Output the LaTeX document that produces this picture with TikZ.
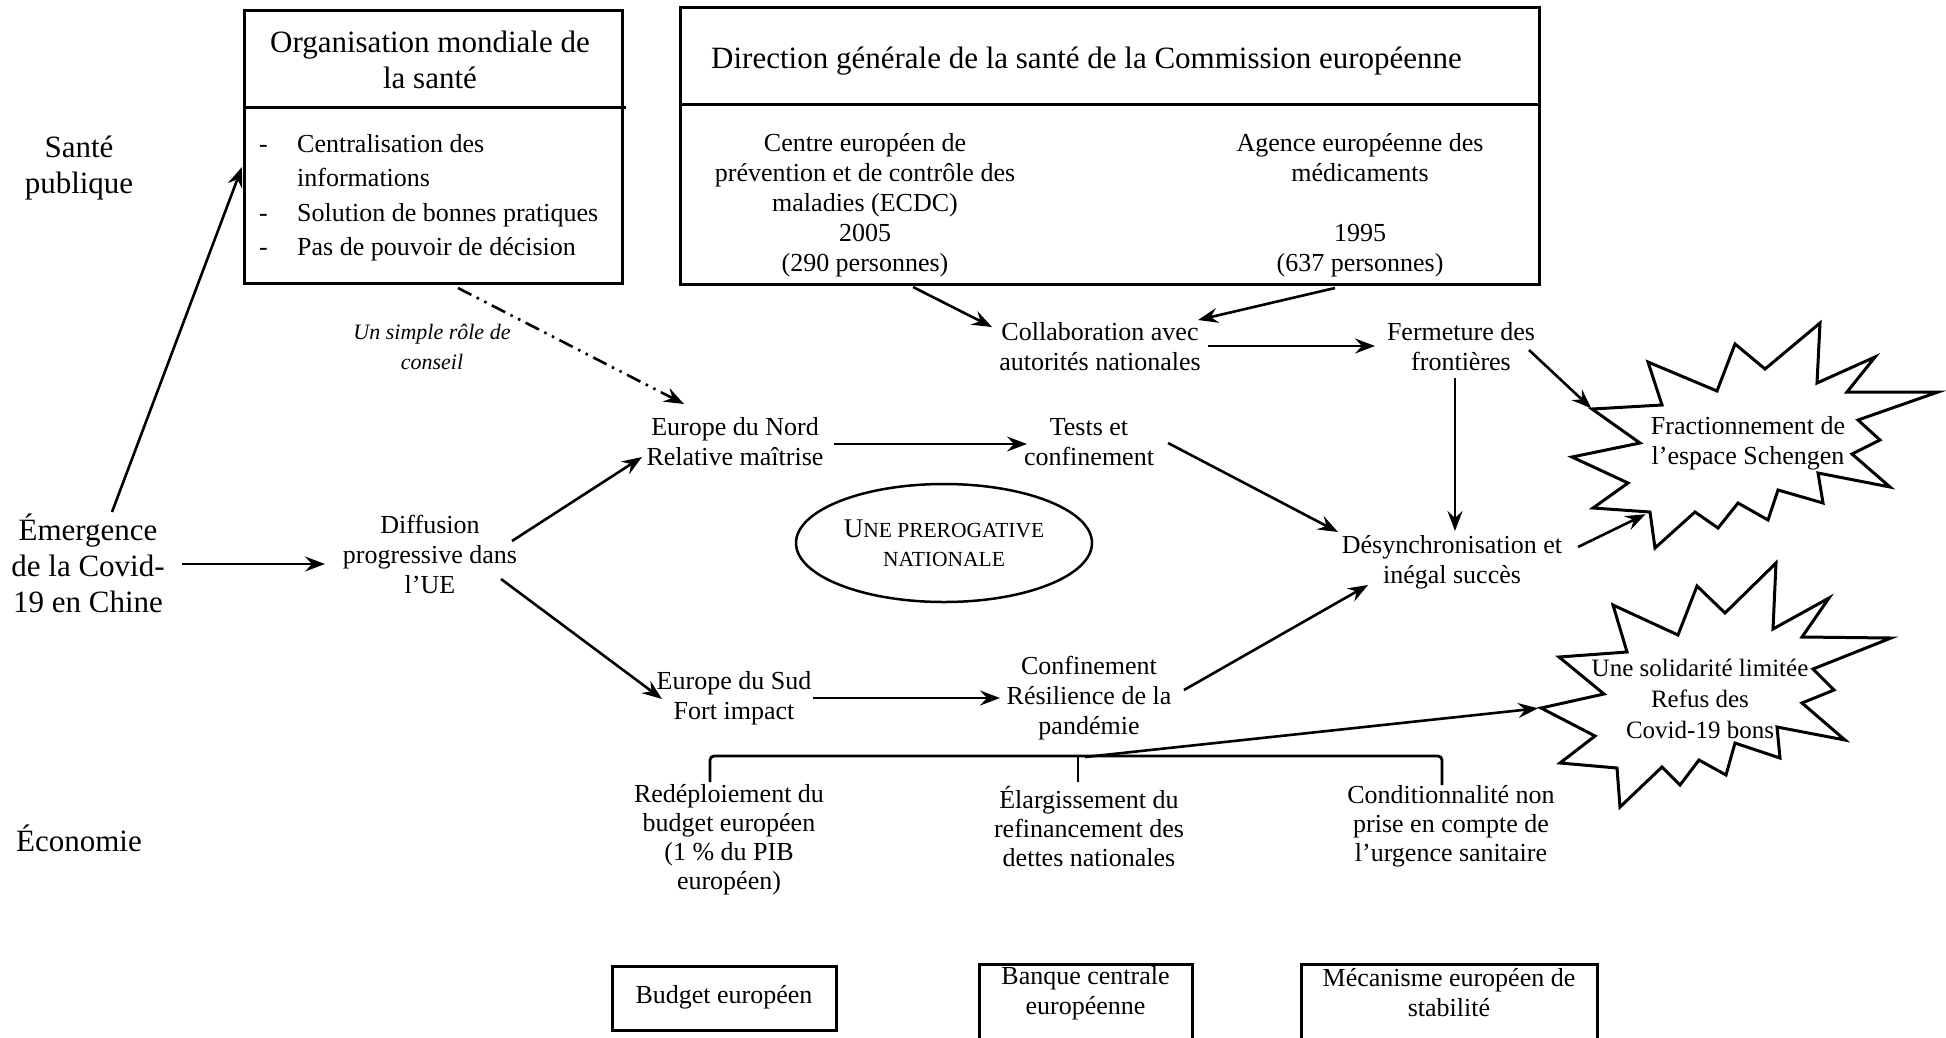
\documentclass[tikz,border=0pt]{standalone}
\usepackage{fontspec}
\setmainfont{Liberation Serif}
\usetikzlibrary{arrows.meta,shapes.geometric}
\begin{document}
\begin{tikzpicture}[x=1pt,y=-1pt,
  arr/.style={line width=2.6pt,-{Stealth[length=20pt,width=15pt,inset=7pt]}},
  ddarr/.style={arr,dash pattern=on 15pt off 6pt on 2.5pt off 6pt on 2.5pt off 6pt},
  txt/.style={align=center,inner sep=0pt,font=\fontsize{26}{30}\selectfont},
  big/.style={align=center,inner sep=0pt,font=\fontsize{31}{36}\selectfont},
  boxline/.style={line width=3pt},
  frame/.style={draw,boxline,inner sep=0pt},
  starline/.style={line width=3pt,line join=miter,miter limit=20}]
\path[fill=white,use as bounding box] (0,0) rectangle (1946,1037);

% left labels
\node[big] (sante) at (79,168) {Santé\\publique};
\node[big] (emerg) at (88,563) {Émergence\\de la Covid-\\19 en Chine};
\node[big] (eco) at (79,838) {Économie};

% OMS box
\node[frame,minimum width=378pt,minimum height=273pt] (omsbox) at (433,146.5) {};
\draw[boxline] (244,107) -- (626,107);
\node[big] (omstitle) at (430,60) {Organisation mondiale de\\la santé};
\node[inner sep=0pt,anchor=west,font=\fontsize{26}{34.5}\selectfont] (omslist) at (259,197)
  {\begin{tabular}{@{}p{38pt}@{}l@{}}-&Centralisation des\\&informations\\-&Solution de bonnes pratiques\\-&Pas de pouvoir de décision\end{tabular}};

% DG box
\node[frame,minimum width=859pt,minimum height=277pt] (dgbox) at (1109.5,145.5) {};
\draw[boxline] (680,104) -- (1539,104);
\node[big,anchor=west] (dgtitle) at (711,61) {Direction générale de la santé de la Commission européenne};
\node[txt] (ecdc) at (865,205) {Centre européen de\\prévention et de contrôle des\\maladies (ECDC)\\2005\\(290 personnes)};
\node[txt] (ema) at (1360,205) {Agence européenne des\\médicaments\\[30pt]1995\\(637 personnes)};

% flow nodes
\node[txt] (collab) at (1100,347) {Collaboration avec\\autorités nationales};
\node[txt] (ferm) at (1461,347) {Fermeture des\\frontières};
\node[txt] (diff) at (430,554) {Diffusion\\progressive dans\\l’UE};
\node[txt] (nord) at (735,442) {Europe du Nord\\Relative maîtrise};
\node[txt] (tests) at (1089,442) {Tests et\\confinement};
\node[txt] (desync) at (1452,562) {Désynchronisation et\\inégal succès};
\node[txt] (sud) at (734,698) {Europe du Sud\\Fort impact};
\node[txt] (conf) at (1089,698) {Confinement\\Résilience de la\\pandémie};
\node[txt,font=\itshape\fontsize{22}{30}\selectfont] (conseil) at (432,347) {Un simple rôle de\\conseil};

\node[draw,ellipse,line width=2.5pt,minimum width=296pt,minimum height=118pt,inner sep=0pt,
      align=center,font=\fontsize{21.5}{29}\selectfont] (prerog) at (944,543)
  {{\fontsize{27}{29}\selectfont U}NE PREROGATIVE\\NATIONALE};

% economy
\node[txt,font=\fontsize{26}{29}\selectfont] (redep) at (729,840) {Redéploiement du\\budget européen\\(1 \% du PIB\\européen)};
\node[txt,font=\fontsize{26}{29}\selectfont] (elarg) at (1089,826) {Élargissement du\\refinancement des\\dettes nationales};
\node[txt,font=\fontsize{26}{29}\selectfont] (cond) at (1451,826) {Conditionnalité non\\prise en compte de\\l’urgence sanitaire};
\draw[line width=2.8pt,rounded corners=4pt] (710,782) -- (710,756) -- (1442,756) -- (1442,785);
\draw[line width=2.8pt] (1078,756) -- (1078,782);
\coordinate (brk) at (1085,757);

% bottom boxes
\node[frame,minimum width=224pt,minimum height=64pt] (budgetbox) at (724,998) {};
\node[txt] (budget) at (724,997) {Budget européen};
\node[frame,minimum width=213pt,minimum height=90pt,anchor=north] (bcebox) at (1085.5,963) {};
\node[txt] (bce) at (1085.5,993) {Banque centrale\\européenne};
\node[frame,minimum width=296pt,minimum height=90pt,anchor=north] (mesbox) at (1449,963) {};
\node[txt] (mes) at (1449,993) {Mécanisme européen de\\stabilité};

% stars
\draw[starline] (1592,409) coordinate (s1a) -- (1662,405) -- (1648,362) -- (1717,391) -- (1735,344) -- (1765,369)
  -- (1820,323) -- (1817,383) -- (1875,357) -- (1847,392) -- (1938,392) -- (1858,420) -- (1880,440)
  -- (1852,454) -- (1890,487) -- (1818,473) -- (1823,503) -- (1778,490) -- (1768,520) -- (1738,503)
  -- (1718,528) -- (1695,512) -- (1655,548) -- (1650,512) coordinate (s1b) -- (1593,508) -- (1628,483)
  -- (1572,457) -- (1640,443) -- cycle;
\node[txt] (frac) at (1748,443) {Fractionnement de\\l’espace Schengen};

\draw[starline] (1541,708) coordinate (s2a) -- (1604,694) -- (1559,657) -- (1627,652) -- (1613,605)
  -- (1678,635) -- (1697,586) -- (1725,613) -- (1776,563) -- (1773,629) -- (1829,598) -- (1802,637)
  -- (1891,638) -- (1813,669) -- (1834,690) -- (1802,703) -- (1845,740) -- (1777,727) -- (1780,758)
  -- (1735,743) -- (1726,775) -- (1699,760) -- (1680,785) -- (1662,767) -- (1620,807) -- (1617,768)
  -- (1560,763) -- (1595,736) -- cycle;
\node[txt,font=\fontsize{25}{31}\selectfont] (soli) at (1700,699) {Une solidarité limitée\\Refus des\\Covid-19 bons};

% connectors
\draw[arr] ([shift={(94,1)}]emerg.center) -- ([shift={(-105,10)}]diff.center);
\draw[arr] ([shift={(24,-51)}]emerg.center) -- ([shift={(-191,20.5)}]omsbox.center);
\draw[ddarr] ([shift={(25,141.5)}]omsbox.center) -- ([shift={(-51,-38)}]nord.center);
\draw[arr] ([shift={(82,-13)}]diff.center) -- ([shift={(-93,15)}]nord.center);
\draw[arr] ([shift={(71,25)}]diff.center) -- ([shift={(-72,1)}]sud.center);
\draw[arr] ([shift={(99,2)}]nord.center) -- ([shift={(-62,2)}]tests.center);
\draw[arr] ([shift={(79,0)}]sud.center) -- ([shift={(-89,0)}]conf.center);
\draw[arr] ([shift={(79,1)}]tests.center) -- ([shift={(-114,-30)}]desync.center);
\draw[arr] ([shift={(95,-8)}]conf.center) -- ([shift={(-84,23)}]desync.center);
\draw[arr] ([shift={(48,82)}]ecdc.center) -- ([shift={(-108,-20)}]collab.center);
\draw[arr] ([shift={(-25,83)}]ema.center) -- ([shift={(98,-27)}]collab.center);
\draw[arr] ([shift={(108,-1)}]collab.center) -- ([shift={(-86,-1)}]ferm.center);
\draw[arr] ([shift={(-6,31)}]ferm.center) -- ([shift={(3,-31)}]desync.center);
\draw[arr,shorten >=1pt] ([shift={(68,3)}]ferm.center) -- (s1a);
\draw[arr,shorten >=5pt] ([shift={(126,-15)}]desync.center) -- (s1b);
\draw[arr,shorten >=3pt] (brk) -- (s2a);
\end{tikzpicture}
\end{document}
